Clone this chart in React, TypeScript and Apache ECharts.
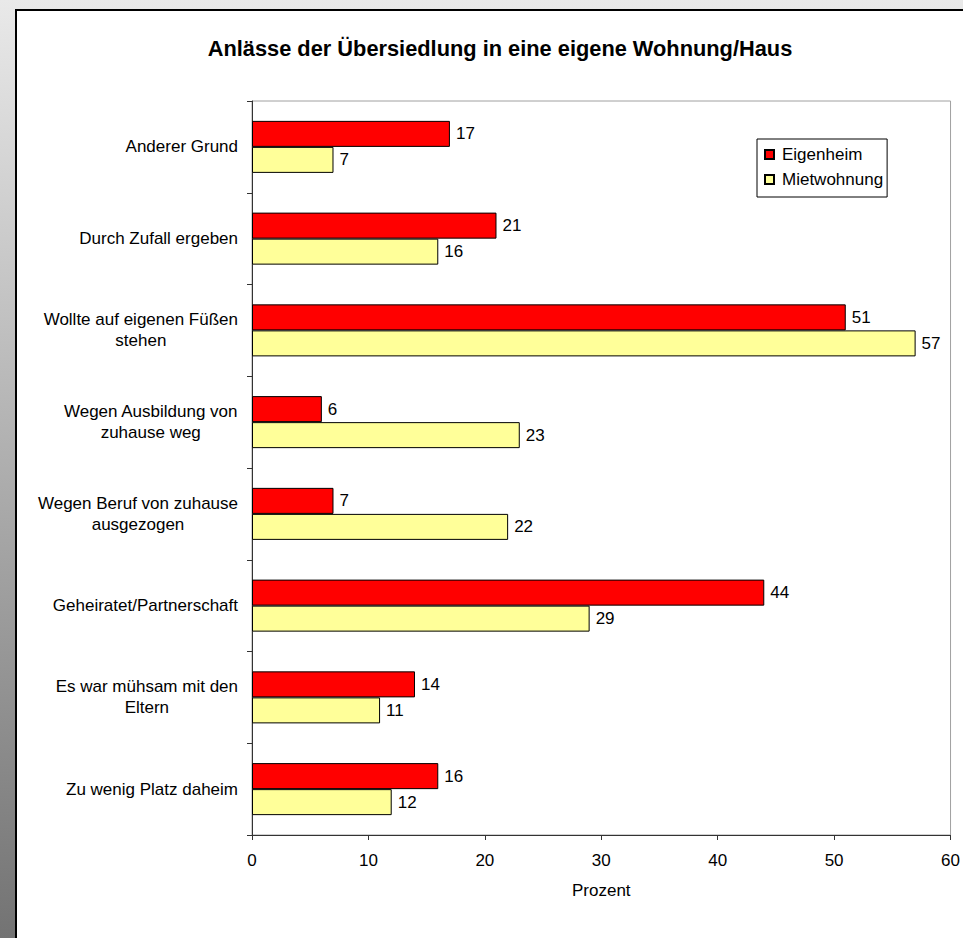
import React, { useEffect, useRef } from "react";
import * as echarts from "echarts";

const titleText = "Anlässe der Übersiedlung in eine eigene Wohnung/Haus";
const categories = [
  "Anderer Grund",
  "Durch Zufall ergeben",
  "Wollte auf eigenen Füßen\nstehen",
  "Wegen Ausbildung von\nzuhause weg",
  "Wegen Beruf von zuhause\nausgezogen",
  "Geheiratet/Partnerschaft",
  "Es war mühsam mit den\nEltern",
  "Zu wenig Platz daheim",
];
const seriesNames = ["Eigenheim", "Mietwohnung"];
const eigenheim = [17, 21, 51, 6, 7, 44, 14, 16];
const mietwohnung = [7, 16, 57, 23, 22, 29, 11, 12];
const xAxisName = "Prozent";
const xMin = 0;
const xMax = 60;
const xInterval = 10;

const FONT = "'Liberation Sans', Arial, sans-serif";

export default function App() {
  const ref = useRef<HTMLDivElement>(null);
  useEffect(() => {
    if (!ref.current) return;
    const chart = echarts.init(ref.current, null, { renderer: "svg" });
    const barStyle = (color: string) => ({
      color,
      borderColor: "#000",
      borderWidth: 1,
    });
    const labelStyle = {
      show: true,
      position: "right" as const,
      distance: 6,
      color: "#000",
      fontSize: 17,
      fontFamily: FONT,
    };
    chart.setOption({
      animation: false,
      backgroundColor: {
        type: "linear",
        x: 0,
        y: 0,
        x2: 0,
        y2: 1,
        colorStops: [
          { offset: 0, color: "#e9e9e9" },
          { offset: 1, color: "#737373" },
        ],
      },
      graphic: [
        {
          type: "rect",
          z: -10,
          shape: { x: 16, y: 10, width: 1100, height: 1100 },
          style: { fill: "#fff", stroke: "#000", lineWidth: 2 },
        },
      ],
      title: {
        text: titleText,
        left: 500,
        top: 37,
        textAlign: "center",
        padding: 0,
        textStyle: {
          fontFamily: FONT,
          fontSize: 21.8,
          fontWeight: "bold",
          color: "#000",
        },
      },
      legend: {
        orient: "vertical",
        left: 757,
        top: 139,
        padding: [7, 4, 9, 7],
        itemGap: 8,
        itemWidth: 9,
        itemHeight: 9,
        icon: "rect",
        borderColor: "#000",
        borderWidth: 1,
        backgroundColor: "#fff",
        textStyle: { fontFamily: FONT, fontSize: 17, color: "#000", padding: [0, 0, 0, 3] },
        data: seriesNames,
      },
      grid: {
        left: 252,
        top: 101,
        right: 6,
        bottom: 103,
        show: true,
        borderColor: "#a0a0a0",
        borderWidth: 1,
        containLabel: false,
      },
      xAxis: {
        type: "value",
        min: xMin,
        max: xMax,
        interval: xInterval,
        name: xAxisName,
        nameLocation: "middle",
        nameGap: 47,
        nameTextStyle: { fontFamily: FONT, fontSize: 17, color: "#000", verticalAlign: "top" },
        axisLine: { show: true, lineStyle: { color: "#333", width: 1 } },
        axisTick: { show: true, length: 5, lineStyle: { color: "#333" } },
        axisLabel: { fontFamily: FONT, fontSize: 17, color: "#000", margin: 17 },
        splitLine: { show: false },
      },
      yAxis: {
        type: "category",
        inverse: true,
        data: categories,
        axisLine: { show: true, lineStyle: { color: "#333", width: 1 } },
        axisTick: { show: true, length: 5, lineStyle: { color: "#333" } },
        axisLabel: {
          margin: 14,
          color: "#000",
          fontFamily: FONT,
          fontSize: 17,
          lineHeight: 21,
          formatter: (value: string) =>
            value
              .split("\n")
              .map((l) => `{c|${l}}`)
              .join("\n"),
          rich: {
            c: {
              align: "center",
              fontFamily: FONT,
              fontSize: 17,
              lineHeight: 21,
              color: "#000",
            },
          },
        },
        splitLine: { show: false },
      },
      series: [
        {
          name: seriesNames[0],
          type: "bar",
          data: eigenheim,
          barGap: "0%",
          barCategoryGap: "43.3%",
          itemStyle: barStyle("#ff0000"),
          label: labelStyle,
        },
        {
          name: seriesNames[1],
          type: "bar",
          data: mietwohnung,
          barGap: "0%",
          barCategoryGap: "43.3%",
          itemStyle: barStyle("#ffff99"),
          label: labelStyle,
        },
      ],
    });
    return () => chart.dispose();
  }, []);
  return (
    <div
      ref={ref}
      style={{ position: "fixed", left: 0, top: 0, width: 963, height: 938 }}
    />
  );
}
